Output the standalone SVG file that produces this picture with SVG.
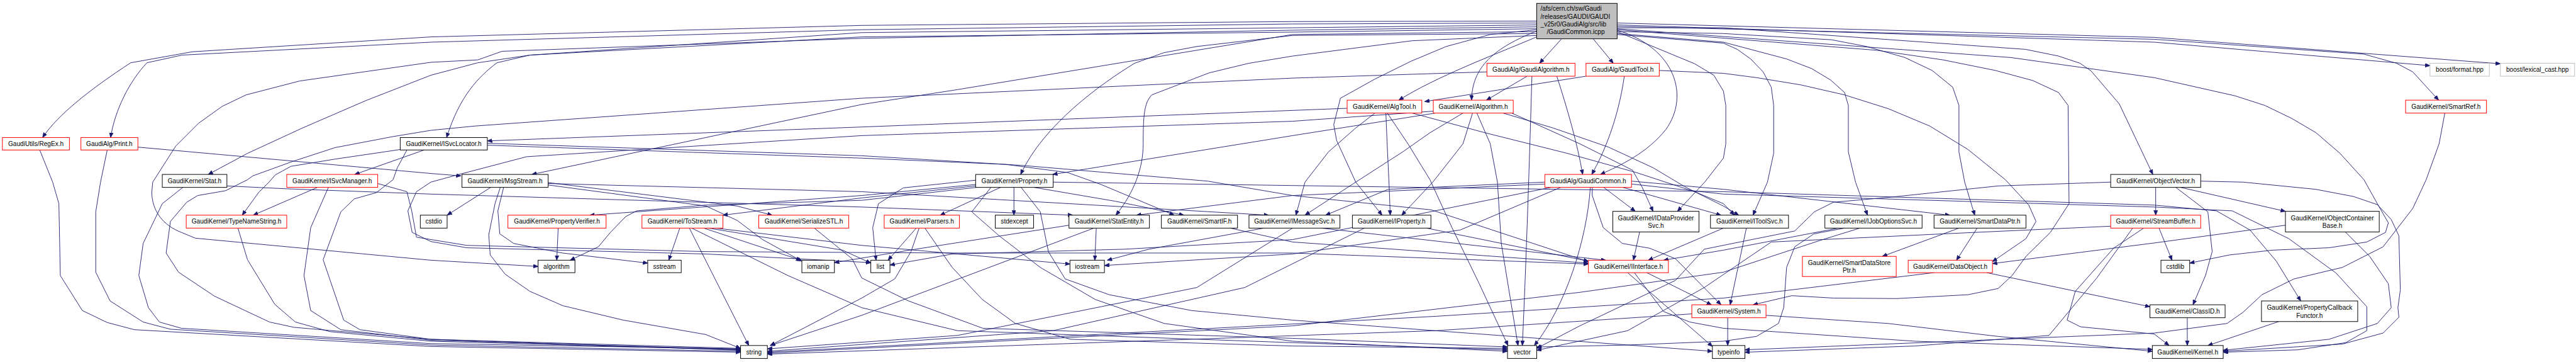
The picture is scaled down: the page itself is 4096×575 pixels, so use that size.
<svg xmlns="http://www.w3.org/2000/svg" width="4096" height="575" viewBox="0 0 4096 575">
<style>
.nd rect{fill:#ffffff;stroke:#000000;stroke-width:1.3}
.nd rect.r{stroke:#ff0000}
.nd rect.g{stroke:#bfbfbf}
.nd rect.gr{fill:#bfbfbf}
text{font-family:"Liberation Sans",Arial,Helvetica,sans-serif;font-size:13.3px;text-anchor:middle;fill:#000000}
text.l{text-anchor:start}
#edges path{fill:none;stroke:#191970;stroke-width:1.2;stroke-linejoin:round;marker-end:url(#ah)}
</style>
<defs>
<marker id="ah" markerUnits="userSpaceOnUse" markerWidth="12" markerHeight="9" refX="10" refY="4" orient="auto">
<path d="M0,0 L10,4 L0,8 Z" fill="#191970" stroke="#191970" stroke-width="1"/>
</marker>
</defs>
<rect x="0" y="0" width="4096" height="575" fill="#ffffff"/>
<g transform="scale(0.7612)">
<g id="edges">
<path d="M3210,44 L2700,45 L1800,53 L900,77 L402,108 L273,131 C190,185 120,240 89,287"/>
<path d="M3210,48 L2700,50 L1800,62 L900,88 L380,115 L307,131 C270,170 240,230 231,287"/>
<path d="M3210,60 L2700,67 L1800,77 L1107,115 L998,131 L900,157 L764,210 L632,267 L517,320 L435,364"/>
<path d="M3210,56 L2700,63 L1800,80 L1049,107 L998,125 L900,130 L626,169 L514,198 L464,222 L415,257 L367,305 L319,380 L317,402 C318,440 340,470 379,485 L408,497 L900,543 L1124,556"/>
<path d="M3210,52 L2700,58 L1800,68 L1107,115 L1038,131 C1000,160 960,200 933,287"/>
<path d="M3210,66 L2700,72 L2000,187 L1800,218 L1111,364"/>
<path d="M3210,70 L2700,74 L2500,97 L2431,110 L2370,132 C2300,175 2180,260 2132,364"/>
<path d="M3210,74 L2950,85 L2700,117 L2609,132 L2526,152 L2406,198 C2390,215 2388,240 2388,300 C2388,350 2370,400 2331,449"/>
<path d="M3210,62 L3113,72 L3021,97 L2947,128 L2872,165 L2800,205 L2786,260 L2792,293 L2832,380 L2887,449"/>
<path d="M3210,77 C3120,115 3000,160 2922,209"/>
<path d="M3212,64 C3120,100 3075,140 3074,209"/>
<path d="M3262,81 L3216,132"/>
<path d="M3328,81 L3370,132"/>
<path d="M3378,63 C3500,100 3530,200 3480,270 C3440,320 3385,345 3343,364"/>
<path d="M3378,72 L3600,90 L3629,103 L3657,123 L3683,150 L3700,182 L3705,220 L3705,320 L3692,380 L3662,449"/>
<path d="M3378,70 L3600,88 L3732,123 L3784,143 L3824,167 L3853,193 L3861,220 L3861,317 L3876,380 L3901,449"/>
<path d="M3378,66 L3600,70 L3826,83 L3899,97 L3979,120 L4036,147 L4079,182 L4092,220 L4092,317 L4104,380 L4125,449"/>
<path d="M3378,58 L3600,58 L4231,103 L4300,117 L4345,132 L4368,148 L4427,217 L4497,364"/>
<path d="M3378,66 L3460,100 L3540,133 L3580,157 L3600,190 L3605,220 L3605,300 L3600,330 L3561,380 L3504,441"/>
<path d="M3378,62 L3921,105 L4059,125 L4168,147 L4246,168 L4300,193 L4320,220 L4322,425 L4283,485 L4232,535 L4203,575 L4174,602 L4111,615 L3962,623 L3830,622 L3743,617 L3662,636"/>
<path d="M3378,52 L4500,88 L5076,137"/>
<path d="M3378,48 L4500,78 L5223,133"/>
<path d="M3378,55 L4500,82 L4938,113 L5006,132 L5040,150 L5094,209"/>
<path d="M3378,60 L4200,120 L4500,162 L4669,200 L4731,220 L4787,247 L4838,277 L4888,320 L4938,375 L4966,425 L4989,465 L4983,485 L4944,505 L4865,517 L4747,522 L4657,532 L4574,549"/>
<path d="M3190,159 L3105,209"/>
<path d="M3252,159 C3275,230 3295,300 3306,364"/>
<path d="M3200,159 C3196,300 3188,550 3180,721"/>
<path d="M3106,150 L2700,163 L1800,205 L992,263 L900,272 L821,285 L700,308 L611,337 L528,367 L517,375 L471,398 L413,408 L390,422 L356,462 L347,528 L373,568 L448,618 L563,672 L614,683 L900,708 L1547,731"/>
<path d="M3313,159 L2976,212"/>
<path d="M3393,159 C3380,250 3350,320 3325,364"/>
<path d="M3466,147 L3600,153 L3669,162 L3761,177 L3853,198 L3945,227 L4031,263 L4111,312 L4189,375 L4238,428 L4253,462 L4232,498 L4162,546"/>
<path d="M2814,226 L1800,265 L1018,294"/>
<path d="M2895,236 C2898,320 2902,380 2904,449"/>
<path d="M2872,236 L2832,267 L2775,317 L2726,380 L2707,449"/>
<path d="M2898,236 L2941,300 L2987,375 L3033,475 L3090,592 L3150,721"/>
<path d="M2950,236 L3102,277 L3274,320 L3418,360 L3540,400 L3600,425 L3623,449"/>
<path d="M2994,232 L2700,253 L1800,283 L1100,327 L955,365 L900,380 L870,400 L852,440 L861,485 L900,504 L975,517 L1474,530 L1819,548"/>
<path d="M2998,236 L2700,283 L2199,364"/>
<path d="M3085,236 L3113,300 L3128,380 L3136,508 L3171,721"/>
<path d="M3056,236 L2987,277 L2930,317 L2832,380 L2726,449"/>
<path d="M3076,236 L3056,300 L2993,380 L2928,449"/>
<path d="M3140,236 L3244,267 L3360,307 L3453,350 L3520,390 L3600,430 L3632,449"/>
<path d="M3158,236 L3300,300 L3410,355 L3430,390 L3453,441"/>
<path d="M3350,391 L3416,441"/>
<path d="M3322,391 C3315,500 3270,640 3205,721"/>
<path d="M3227,380 L2900,395 L2769,449"/>
<path d="M3227,384 L2700,408 L2374,449"/>
<path d="M3390,391 L3595,449"/>
<path d="M3326,391 L3326,408 L3349,475 L3389,508 L3446,518 L3500,540 L3595,636"/>
<path d="M3408,378 L3600,395 L4073,449"/>
<path d="M3260,391 L3050,480 L2700,530 L2307,554"/>
<path d="M3240,391 L2700,500 L2350,520 L1990,530 L1859,553"/>
<path d="M3408,384 L3600,405 L4500,432 L4663,440 L4781,498 L4880,570 L4944,640 L4944,690 L4900,715 L4800,730 L4644,735"/>
<path d="M4503,391 L4503,449"/>
<path d="M4555,391 L4774,441"/>
<path d="M4545,391 L4612,442 L4621,525 L4607,575 L4581,636"/>
<path d="M4597,378 L4685,380 L4837,395 L4916,410 L4966,427 L4995,458 L5011,492 L5014,605 L5009,642 L5011,662 L4978,695 L4893,718 L4644,733"/>
<path d="M4409,380 L4174,388 L3944,412 L3830,422 L3790,442 L3749,482 L3669,498 L3560,520 L3500,585 L3300,680 L3210,727"/>
<path d="M4510,476 L4537,543"/>
<path d="M4478,476 L4415,518 L4335,608 L4318,668 L4346,682 L4500,697 L4531,721"/>
<path d="M4409,472 L4059,488 L3700,505 L3560,600 L3400,690 L3210,731"/>
<path d="M4455,476 L4380,580 L4280,700 L4000,722 L3645,735"/>
<path d="M5107,236 L5095,300 L5068,375 L5040,435 L4978,515 L4893,558 L4792,582 L4725,615 L4685,652 L4652,675 L4500,695 L3645,730"/>
<path d="M4774,470 L4500,507 L4162,550"/>
<path d="M4899,484 L4950,535 L4989,592 L4995,642 L4966,675 L4865,708 L4644,731"/>
<path d="M4569,663 L4569,721"/>
<path d="M4760,671 L4612,721"/>
<path d="M3689,658 L3944,675 L4174,702 L4496,733"/>
<path d="M3414,569 L3475,650 L3530,672 L3600,685 L4000,712 L4496,729"/>
<path d="M3440,569 L3575,636"/>
<path d="M3400,569 L3577,723"/>
<path d="M3609,663 L3609,721"/>
<path d="M4150,569 L4491,640"/>
<path d="M4040,569 L3600,622 L3000,660 L1603,735"/>
<path d="M4092,476 L3932,535"/>
<path d="M4130,476 L4087,543"/>
<path d="M3600,476 L3443,543"/>
<path d="M3648,476 L3614,636"/>
<path d="M3840,476 L3600,522 L3475,543"/>
<path d="M3885,476 L3801,502 L3600,568 L3300,610 L2700,680 L1603,737"/>
<path d="M3853,476 L3789,488 L3749,515 L3732,558 L3726,642 L3715,675 L3669,702 L3600,712 L3400,720 L3210,724"/>
<path d="M2760,476 L3354,543"/>
<path d="M2640,476 L2400,520 L2313,543"/>
<path d="M2700,476 L2500,600 L2000,700 L1603,728"/>
<path d="M2980,476 L3318,545"/>
<path d="M2850,476 L2600,600 L2200,690 L1603,733"/>
<path d="M3425,484 L3412,543"/>
<path d="M2570,476 L2700,505 L3318,549"/>
<path d="M2290,476 L2287,543"/>
<path d="M2285,476 L1800,658 L1609,721"/>
<path d="M2233,470 L1900,522 L1743,548"/>
<path d="M2038,385 L1800,408 L1232,449"/>
<path d="M2038,388 L1800,413 L1510,449"/>
<path d="M2040,391 L1800,418 L1474,428 L1330,440 L1307,452 L1275,485 L1250,515 L1191,543"/>
<path d="M2038,376 L1887,392 L1835,425 L1823,475 L1830,543"/>
<path d="M2090,391 L1964,449"/>
<path d="M2118,391 L2118,449"/>
<path d="M2160,391 L2330,420 L2473,449"/>
<path d="M2133,391 L2173,442 L2190,525 L2225,582 L2317,615 L2489,648 L2700,668 L3577,733"/>
<path d="M2070,391 L2030,442 L2087,492 L2173,558 L2288,625 L2432,675 L2700,712 L3149,733"/>
<path d="M2200,380 L3600,400 L4500,428 L4630,440 L4700,480 L4755,545 L4806,628"/>
<path d="M1914,476 L1855,543"/>
<path d="M1920,476 L1903,525 L1869,582 L1800,622 L1609,721"/>
<path d="M1932,476 L1989,558 L2052,625 L2121,675 L2236,708 L2700,722 L3149,727"/>
<path d="M1701,476 L1780,540 L1800,580 L1898,628 L2053,685 L2700,706 L3149,724"/>
<path d="M1440,476 L1564,721"/>
<path d="M1420,476 L1397,543"/>
<path d="M1470,476 L1673,543"/>
<path d="M1480,476 L1760,522 L1819,549"/>
<path d="M1495,476 L1800,512 L2000,530 L2235,551"/>
<path d="M1445,476 L1646,575 L1800,642 L2000,690 L2700,715 L3149,730"/>
<path d="M1025,391 L934,449"/>
<path d="M1145,381 L1540,430 L1613,449"/>
<path d="M1052,391 L1040,440 L1044,488 L1073,508 L1175,528 L1353,549"/>
<path d="M1145,386 L1475,430 L1540,460 L1593,500 L1675,545"/>
<path d="M1045,391 L1034,425 L1021,490 L1024,532 L1055,572 L1107,608 L1176,638 L1302,668 L1474,698 L1547,727"/>
<path d="M1145,383 L1800,400 L2650,449"/>
<path d="M886,313 L741,364"/>
<path d="M836,312 L700,332 L608,347 L575,365 L562,380 L540,402 L506,449"/>
<path d="M1018,303 L1800,330 L2100,343 L2230,360 L2300,385 L2453,449"/>
<path d="M1018,299 L1800,325 L2133,345 L2523,378 L2700,408 L2990,438 L3318,546"/>
<path d="M850,313 L830,350 L821,375 L786,402 L740,415 L712,442 L675,542 L718,668 L752,688 L900,708 L1547,727"/>
<path d="M663,391 L529,449"/>
<path d="M789,383 L850,400 L860,440 L870,495 L975,512 L1474,525 L2000,528 L2700,528 L3318,551"/>
<path d="M686,391 L649,475 L635,575 L649,648 L712,688 L900,710 L1547,729"/>
<path d="M497,476 L517,542 L574,635 L617,672 L689,692 L900,712 L1547,730"/>
<path d="M83,313 L110,380 L123,425 L126,575 L172,648 L224,673 L281,688 L900,723 L1547,735"/>
<path d="M224,313 L210,380 L200,442 L200,568 L230,628 L299,672 L356,687 L900,720 L1547,733"/>
<path d="M288,307 L900,362 L963,367"/>
<path d="M474,388 L600,394 L900,405 L1800,432 L2241,449"/>
<path d="M382,391 L339,425 L299,508 L290,575 L310,642 L333,672 L379,685 L900,717 L1547,728"/>
<path d="M1166,476 L1163,543"/>
<path d="M3534,655 L3000,690 L1603,739"/>
</g>
<g id="n-root" class="nd"><rect class="gr" x="3210" y="7" width="168" height="74"/><text class="l" x="3218" y="23">/afs/cern.ch/sw/Gaudi</text><text class="l" x="3218" y="39">/releases/GAUDI/GAUDI</text><text class="l" x="3218" y="55">_v25r0/GaudiAlg/src/lib</text><text class="l" x="3231" y="71">/GaudiCommon.icpp</text></g>
<g id="n-gaudialgorithm" class="nd"><rect class="r" x="3106" y="132" width="184" height="27"/><text x="3198" y="150">GaudiAlg/GaudiAlgorithm.h</text></g>
<g id="n-gauditool" class="nd"><rect class="r" x="3313" y="132" width="153" height="27"/><text x="3389.5" y="150">GaudiAlg/GaudiTool.h</text></g>
<g id="n-format" class="nd"><rect class="g" x="5076" y="132" width="124" height="27"/><text x="5138" y="150">boost/format.hpp</text></g>
<g id="n-lexicalcast" class="nd"><rect class="g" x="5223" y="132" width="155" height="27"/><text x="5300.5" y="150">boost/lexical_cast.hpp</text></g>
<g id="n-algtool" class="nd"><rect class="r" x="2814" y="209" width="156" height="27"/><text x="2892" y="227">GaudiKernel/AlgTool.h</text></g>
<g id="n-algorithm-h" class="nd"><rect class="r" x="2994" y="209" width="167" height="27"/><text x="3077.5" y="227">GaudiKernel/Algorithm.h</text></g>
<g id="n-smartref" class="nd"><rect class="r" x="5025" y="209" width="169" height="27"/><text x="5109.5" y="227">GaudiKernel/SmartRef.h</text></g>
<g id="n-regex" class="nd"><rect class="r" x="5" y="287" width="140" height="26"/><text x="75" y="305">GaudiUtils/RegEx.h</text></g>
<g id="n-print" class="nd"><rect class="r" x="169" y="287" width="119" height="26"/><text x="228.5" y="305">GaudiAlg/Print.h</text></g>
<g id="n-isvclocator" class="nd"><rect x="836" y="287" width="182" height="26"/><text x="927" y="305">GaudiKernel/ISvcLocator.h</text></g>
<g id="n-stat" class="nd"><rect x="339" y="364" width="135" height="27"/><text x="406.5" y="382">GaudiKernel/Stat.h</text></g>
<g id="n-isvcmanager" class="nd"><rect class="r" x="599" y="364" width="190" height="27"/><text x="694" y="382">GaudiKernel/ISvcManager.h</text></g>
<g id="n-msgstream" class="nd"><rect x="965" y="364" width="180" height="27"/><text x="1055" y="382">GaudiKernel/MsgStream.h</text></g>
<g id="n-property" class="nd"><rect x="2038" y="364" width="162" height="27"/><text x="2119" y="382">GaudiKernel/Property.h</text></g>
<g id="n-gaudicommon" class="nd"><rect class="r" x="3227" y="364" width="181" height="27"/><text x="3317.5" y="382">GaudiAlg/GaudiCommon.h</text></g>
<g id="n-objectvector" class="nd"><rect x="4409" y="364" width="188" height="27"/><text x="4503" y="382">GaudiKernel/ObjectVector.h</text></g>
<g id="n-typenamestring" class="nd"><rect class="r" x="389" y="449" width="210" height="27"/><text x="494" y="467">GaudiKernel/TypeNameString.h</text></g>
<g id="n-cstdio" class="nd"><rect x="878" y="449" width="56" height="27"/><text x="906" y="467">cstdio</text></g>
<g id="n-propertyverifier" class="nd"><rect class="r" x="1061" y="449" width="205" height="27"/><text x="1163.5" y="467">GaudiKernel/PropertyVerifier.h</text></g>
<g id="n-tostream" class="nd"><rect class="r" x="1341" y="449" width="169" height="27"/><text x="1425.5" y="467">GaudiKernel/ToStream.h</text></g>
<g id="n-serializestl" class="nd"><rect class="r" x="1585" y="449" width="188" height="27"/><text x="1679" y="467">GaudiKernel/SerializeSTL.h</text></g>
<g id="n-parsers" class="nd"><rect class="r" x="1847" y="449" width="157" height="27"/><text x="1925.5" y="467">GaudiKernel/Parsers.h</text></g>
<g id="n-stdexcept" class="nd"><rect x="2079" y="449" width="80" height="27"/><text x="2119" y="467">stdexcept</text></g>
<g id="n-statentity" class="nd"><rect x="2233" y="449" width="168" height="27"/><text x="2317" y="467">GaudiKernel/StatEntity.h</text></g>
<g id="n-smartif" class="nd"><rect x="2426" y="449" width="159" height="27"/><text x="2505.5" y="467">GaudiKernel/SmartIF.h</text></g>
<g id="n-imessagesvc" class="nd"><rect x="2609" y="449" width="190" height="27"/><text x="2704" y="467">GaudiKernel/IMessageSvc.h</text></g>
<g id="n-iproperty" class="nd"><rect x="2825" y="449" width="164" height="27"/><text x="2907" y="467">GaudiKernel/IProperty.h</text></g>
<g id="n-idataprovidersvc" class="nd"><rect x="3369" y="441" width="180" height="43"/><text x="3459" y="460">GaudiKernel/IDataProvider</text><text x="3459" y="476">Svc.h</text></g>
<g id="n-itoolsvc" class="nd"><rect x="3573" y="449" width="163" height="27"/><text x="3654.5" y="467">GaudiKernel/IToolSvc.h</text></g>
<g id="n-ijoboptionssvc" class="nd"><rect x="3812" y="449" width="203" height="27"/><text x="3913.5" y="467">GaudiKernel/IJobOptionsSvc.h</text></g>
<g id="n-smartdataptr" class="nd"><rect x="4040" y="449" width="192" height="27"/><text x="4136" y="467">GaudiKernel/SmartDataPtr.h</text></g>
<g id="n-streambuffer" class="nd"><rect class="r" x="4409" y="449" width="188" height="27"/><text x="4503" y="467">GaudiKernel/StreamBuffer.h</text></g>
<g id="n-objectcontainerbase" class="nd"><rect x="4774" y="441" width="196" height="43"/><text x="4872" y="460">GaudiKernel/ObjectContainer</text><text x="4872" y="476">Base.h</text></g>
<g id="n-algorithm" class="nd"><rect x="1124" y="543" width="77" height="26"/><text x="1162.5" y="561">algorithm</text></g>
<g id="n-sstream" class="nd"><rect x="1353" y="543" width="70" height="26"/><text x="1388" y="561">sstream</text></g>
<g id="n-iomanip" class="nd"><rect x="1675" y="543" width="68" height="26"/><text x="1709" y="561">iomanip</text></g>
<g id="n-list" class="nd"><rect x="1819" y="543" width="40" height="26"/><text x="1839" y="561">list</text></g>
<g id="n-iostream" class="nd"><rect x="2235" y="543" width="72" height="26"/><text x="2271" y="561">iostream</text></g>
<g id="n-iinterface" class="nd"><rect class="r" x="3318" y="543" width="167" height="26"/><text x="3401.5" y="561">GaudiKernel/IInterface.h</text></g>
<g id="n-smartdatastoreptr" class="nd"><rect class="r" x="3765" y="535" width="196" height="42"/><text x="3863" y="553">GaudiKernel/SmartDataStore</text><text x="3863" y="569">Ptr.h</text></g>
<g id="n-dataobject" class="nd"><rect class="r" x="3986" y="543" width="176" height="26"/><text x="4074" y="561">GaudiKernel/DataObject.h</text></g>
<g id="n-cstdlib" class="nd"><rect x="4514" y="543" width="60" height="26"/><text x="4544" y="561">cstdlib</text></g>
<g id="n-system" class="nd"><rect class="r" x="3534" y="636" width="155" height="27"/><text x="3611.5" y="654">GaudiKernel/System.h</text></g>
<g id="n-classid" class="nd"><rect x="4491" y="636" width="157" height="27"/><text x="4569.5" y="654">GaudiKernel/ClassID.h</text></g>
<g id="n-propertycallbackfunctor" class="nd"><rect x="4724" y="628" width="201" height="43"/><text x="4824.5" y="647">GaudiKernel/PropertyCallback</text><text x="4824.5" y="663">Functor.h</text></g>
<g id="n-string" class="nd"><rect x="1547" y="721" width="56" height="27"/><text x="1575" y="739">string</text></g>
<g id="n-vector" class="nd"><rect x="3149" y="721" width="61" height="27"/><text x="3179.5" y="739">vector</text></g>
<g id="n-typeinfo" class="nd"><rect x="3577" y="721" width="68" height="27"/><text x="3611" y="739">typeinfo</text></g>
<g id="n-kernel" class="nd"><rect x="4496" y="721" width="148" height="27"/><text x="4570" y="739">GaudiKernel/Kernel.h</text></g>
</g>
</svg>
